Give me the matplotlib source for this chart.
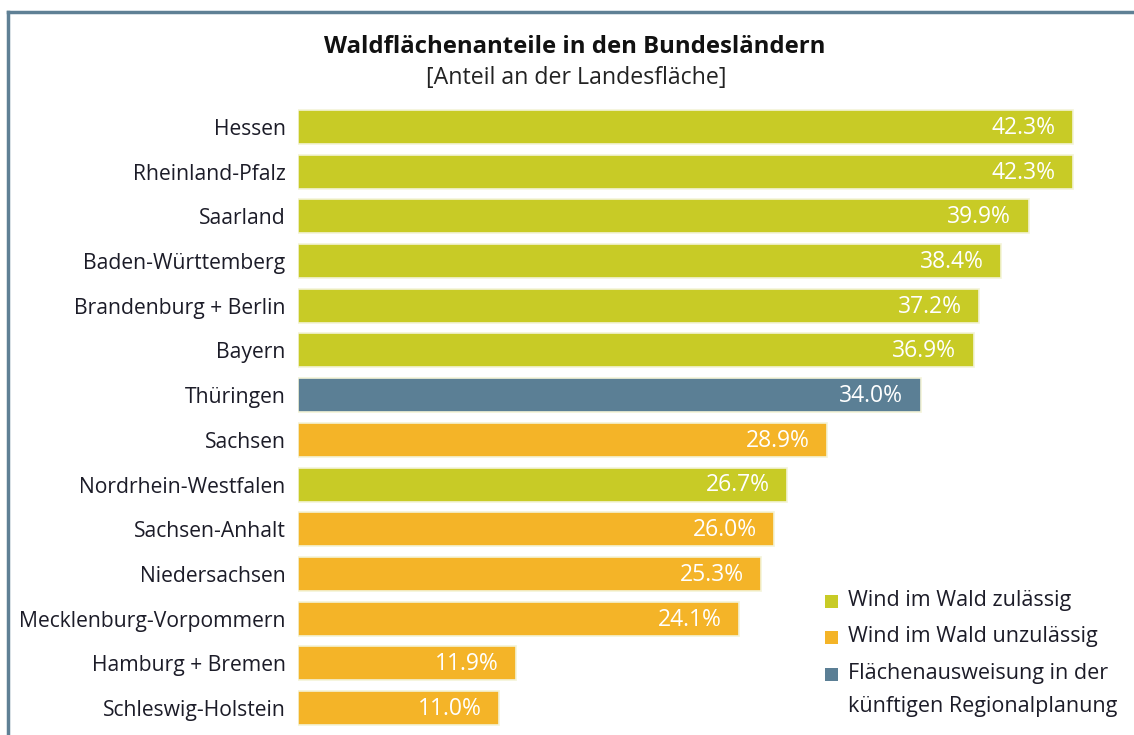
import matplotlib
matplotlib.use("Agg")
from matplotlib import pyplot as plt
from matplotlib.patches import Rectangle
from matplotlib.lines import Line2D

# Data
states = ['Hessen', 'Rheinland-Pfalz', 'Saarland', 'Baden-Württemberg',
          'Brandenburg + Berlin', 'Bayern', 'Thüringen', 'Sachsen',
          'Nordrhein-Westfalen', 'Sachsen-Anhalt', 'Niedersachsen',
          'Mecklenburg-Vorpommern', 'Hamburg + Bremen', 'Schleswig-Holstein']
forest_share = [42.3, 42.3, 39.9, 38.4, 37.2, 36.9, 34.0, 28.9,
                26.7, 26.0, 25.3, 24.1, 11.9, 11.0]
# category: 'z' = zulässig, 'u' = unzulässig, 'r' = Regionalplanung
status = ['z', 'z', 'z', 'z', 'z', 'z', 'r', 'u',
          'z', 'u', 'u', 'u', 'u', 'u']

legend_keys = ['z', 'u', 'r']
legend_labels = ['Wind im Wald zulässig', 'Wind im Wald unzulässig',
                 'Flächenausweisung in der\nkünftigen Regionalplanung']

colors = {'z': '#c8cb26', 'u': '#f4b428', 'r': '#5b7f95'}
frame_color = '#5f8095'
text_color = '#1c1c28'

plt.rcParams['font.family'] = ['Open Sans', 'DejaVu Sans']

W, H = 1134, 735
fig = plt.figure(figsize=(W / 100, H / 100), dpi=100)
ax = fig.add_axes([298 / W, 0.00626, 1 - 298 / W - 12 / W, 0.8577 - 0.00626])

ypos = list(range(len(states)))
bar_colors = [colors[s] for s in status]
ax.barh(ypos, forest_share, height=0.76, color=bar_colors,
        edgecolor='#f3f3d8', linewidth=1.2)

# value labels inside the bars
for y, v in zip(ypos, forest_share):
    ax.text(v - 0.95, y + 0.02, f'{v:.1f}%', ha='right', va='center',
            color='white', fontsize=16.5)

ax.set_xlim(0, 45)
ax.set_ylim(len(states) - 0.5, -0.5)
ax.set_yticks(ypos)
ax.set_yticklabels(states, fontsize=15.2, color=text_color)
ax.tick_params(axis='y', length=0, pad=9)
ax.set_xticks([])
for sp in ax.spines.values():
    sp.set_visible(False)

# title
fig.text(575 / W, 1 - 47 / H, 'Waldflächenanteile in den Bundesländern',
         ha='center', va='center', fontsize=17.2, fontweight='bold', color='#111111')
fig.text(576 / W, 1 - 78 / H, '[Anteil an der Landesfläche]',
         ha='center', va='center', fontsize=16.7, color='#222222')

# legend (drawn by hand to match the reference spacing)
leg_rows = [601, 637, 674]
for key, label, yc in zip(legend_keys, legend_labels, leg_rows):
    fig.add_artist(Rectangle((825 / W, 1 - (yc + 7) / H), 13 / W, 13 / H,
                             transform=fig.transFigure, facecolor=colors[key],
                             edgecolor='none'))
    fig.text(848 / W, 1 - (yc - 11) / H, label, ha='left', va='top',
             fontsize=15.5, color=text_color, linespacing=1.72)

# frame lines (left and top)
fig.add_artist(Line2D([8 / W, 8 / W], [0, 1 - 12 / H],
                      color=frame_color, linewidth=2.5, transform=fig.transFigure))
fig.add_artist(Line2D([8 / W, 1], [1 - 12 / H, 1 - 12 / H],
                      color=frame_color, linewidth=2.5, transform=fig.transFigure))

fig.savefig('out.png', dpi=100)
